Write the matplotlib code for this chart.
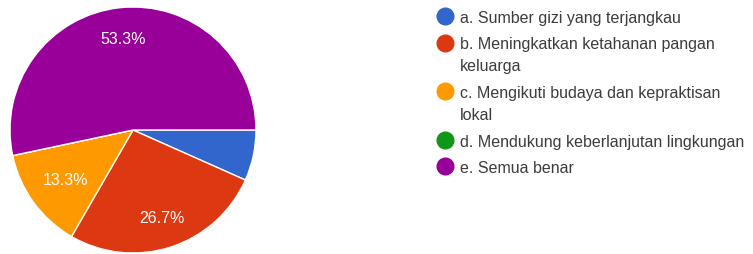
import matplotlib
matplotlib.use("Agg")
import matplotlib.pyplot as plt
from matplotlib.lines import Line2D
import numpy as np

plt.rcParams['font.family'] = ['Liberation Sans', 'DejaVu Sans']

# ─── Data ────────────────────────────────────────────────────────────────────
labels = [
    "a. Sumber gizi yang terjangkau",
    "b. Meningkatkan ketahanan pangan\nkeluarga",
    "c. Mengikuti budaya dan kepraktisan\nlokal",
    "d. Mendukung keberlanjutan lingkungan",
    "e. Semua benar",
]
counts = [1, 4, 2, 0, 8]
colors = ["#3366cc", "#dc3912", "#ff9900", "#109618", "#990099"]

W, H = 753, 255
fig = plt.figure(figsize=(W / 100, H / 100), dpi=100, facecolor="white")

# pie placement in pixels
cx, cy, r = 133, 131, 123
pad = 1.02
ax = fig.add_axes([(cx - r * pad) / W, (H - cy - r * pad) / H, 2 * r * pad / W, 2 * r * pad / H])


def pct(p):
    return f"{p:.1f}%" if p >= 10 else ""


wedges, _, autotexts = ax.pie(
    counts, colors=colors, startangle=0, counterclock=False,
    autopct=pct, pctdistance=0.75,
    wedgeprops=dict(edgecolor="white", linewidth=1),
    textprops=dict(color="white", fontsize=11.5),
)
# small slice label sits a bit closer to the centre
w = wedges[2]
ang = np.deg2rad((w.theta1 + w.theta2) / 2)
autotexts[2].set_position((0.68 * np.cos(ang), 0.68 * np.sin(ang)))

ax.set_xlim(-pad, pad)
ax.set_ylim(-pad, pad)
ax.set_aspect("equal")

# ─── Legend (drawn by hand, first line aligned with the marker) ─────────────
def px(x, y):
    return x / W, 1 - y / H

y = 17
for lab, col in zip(labels, colors):
    lines = lab.split("\n")
    fig.add_artist(Line2D([445 / W], [1 - y / H], marker="o", markersize=12,
                          markerfacecolor=col, markeredgecolor=col, linestyle="none"))
    for i, line in enumerate(lines):
        fig.text(*px(460, y + 22 * i), line, fontsize=11.5, color="#3c3c3c",
                 va="center_baseline", ha="left")
    y += 22 * (len(lines) - 1) + 26.5

fig.savefig("out.png", dpi=100)
